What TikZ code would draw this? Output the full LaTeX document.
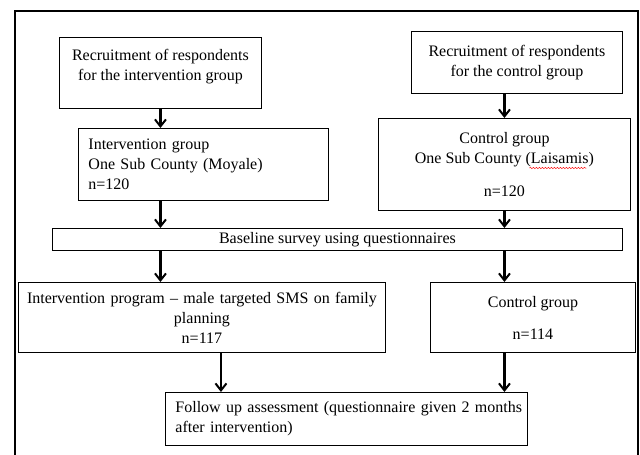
\documentclass[tikz,border=0pt]{standalone}
\usepackage{fontspec}
\setmainfont{Liberation Serif}
\usetikzlibrary{positioning,arrows.meta,decorations.pathmorphing}

\begin{document}
\spaceskip=3pt plus 1pt minus 1pt\relax
\begin{tikzpicture}[x=1pt,y=-1pt,
	font=\fontsize{16}{20}\selectfont,
	box/.style={draw=black, line width=0.9pt, anchor=north west, inner sep=0pt, align=center},
	lbox/.style={box, align=left, inner xsep=10pt},
	arr/.style={-{Straight Barb[length=7pt,width=11pt,line width=2pt]}, line width=2.2pt},
	wavy/.style={red, line width=0.5pt, decorate, decoration={snake, amplitude=0.7pt, segment length=3pt}}]
	% page and frame
	\useasboundingbox (0,0) rectangle (640,455);
	\draw [line width=1.8pt] (15,455) -- (15,11) -- (638,11) -- (638,455);
	% recruitment
	\node [box, minimum width=202, minimum height=71] (rec1) at (59,37) {Recruitment of respondents\\for the intervention group\\[-4pt]\mbox{}};
	\node [box, minimum width=211, minimum height=62] (rec2) at (411,31) {Recruitment of respondents\\for the control group};
	% groups
	\node [lbox, minimum width=250, minimum height=72, text width=230] (grp1) at (78,128) {Intervention group\\One Sub County (Moyale)\\n=120};
	\node [box, minimum width=252, minimum height=92] (grp2) at (378,118) {Control group\\One Sub County (Laisamis)\\[13pt]n=120};
	% spell-check mark under Laisamis
	\draw [wavy] ([xshift=25pt,yshift=-50pt]grp2.north) -- ([xshift=82pt,yshift=-50pt]grp2.north);
	% baseline
	\node [box, minimum width=570, minimum height=22] (base) at (52,228) {Baseline survey using questionnaires};
	% programmes
	\node [box, minimum width=367, minimum height=70, text width=361] (prog) at (18,282) {\mbox{Intervention program -- male targeted SMS on family}\\planning\\n=117};
	\node [box, minimum width=205, minimum height=70] (ctrl) at (430,282) {Control group\\[12pt]n=114};
	% follow up
	\node [lbox, minimum width=362, minimum height=53, text width=342] (follow) at (165,392) {\mbox{Follow up assessment (questionnaire given 2 months}\\after intervention)};
	% arrows
	\draw [arr] (rec1.south) -- (rec1.south |- grp1.north);
	\draw [arr] (grp2.north |- rec2.south) -- (grp2.north);
	\draw [arr] (rec1.south |- grp1.south) -- (rec1.south |- base.north);
	\draw [arr] (grp2.south) -- (grp2.south |- base.north);
	\draw [arr] (rec1.south |- base.south) -- (rec1.south |- prog.north);
	\draw [arr] (grp2.south |- base.south) -- (grp2.south |- ctrl.north);
	\draw [arr] ([xshift=19pt]prog.south) -- ([xshift=19pt]prog.south |- follow.north);
	\draw [arr] (grp2.south |- ctrl.south) -- (grp2.south |- follow.north);
\end{tikzpicture}
\end{document}
